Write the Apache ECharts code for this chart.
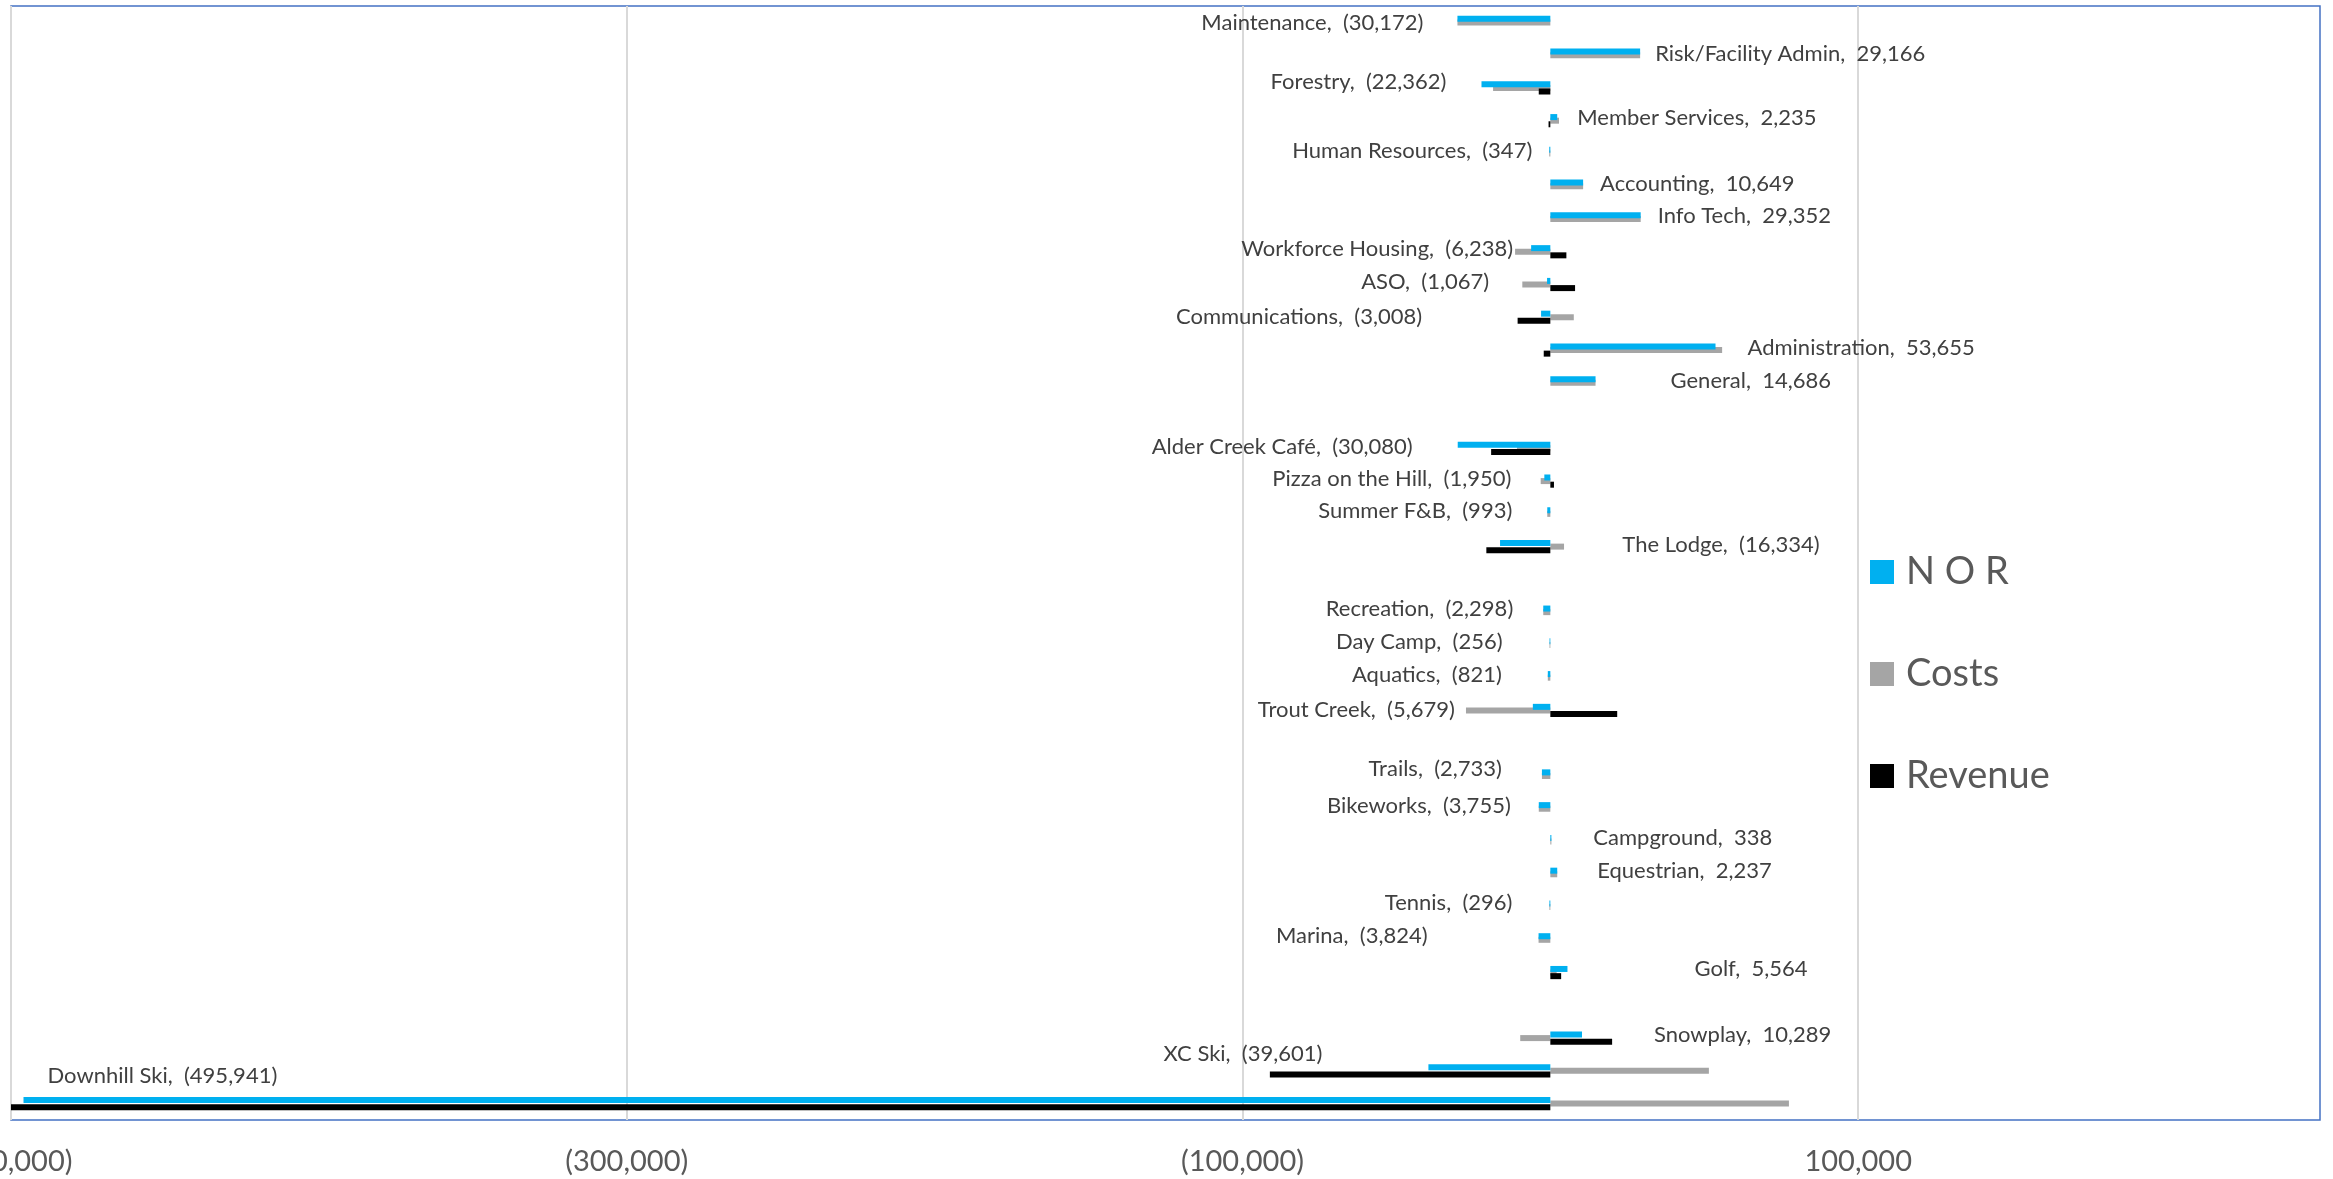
<!DOCTYPE html>
<html>
<head>
<meta charset="utf-8">
<script src="https://cdn.jsdelivr.net/npm/echarts@6/dist/echarts.min.js"></script>
<style>
  html, body { margin: 0; padding: 0; background: #ffffff; }
  #chart { width: 2333px; height: 1179px; }
</style>
</head>
<body>
<div id="chart"></div>
<script>
// ---------- DATA ----------
const categories = [
  'Maintenance', 'Risk/Facility Admin', 'Forestry', 'Member Services', 'Human Resources',
  'Accounting', 'Info Tech', 'Workforce Housing', 'ASO', 'Communications', 'Administration', 'General',
  '',
  'Alder Creek Café', 'Pizza on the Hill', 'Summer F&B', 'The Lodge',
  '',
  'Recreation', 'Day Camp', 'Aquatics', 'Trout Creek',
  '',
  'Trails', 'Bikeworks', 'Campground', 'Equestrian', 'Tennis', 'Marina', 'Golf',
  '',
  'Snowplay', 'XC Ski', 'Downhill Ski'
];

const norValues = [
  -30172, 29166, -22362, 2235, -347, 10649, 29352, -6238, -1067, -3008, 53655, 14686,
  null,
  -30080, -1950, -993, -16334,
  null,
  -2298, -256, -821, -5679,
  null,
  -2733, -3755, 338, 2237, -296, -3824, 5564,
  null,
  10289, -39601, -495941
];

const costValues = [
  -30172, 29166, -18600, 2815, -347, 10649, 29352, -11450, -9100, 7620, 55800, 14686,
  null,
  -10850, -3130, -993, 4450,
  null,
  -2298, -256, -821, -27400,
  null,
  -2733, -3755, 338, 2237, -296, -3824, 2050,
  null,
  -9780, 51500, 77500
];

const revenueValues = [
  0, 0, -3762, -580, 0, 0, 0, 5212, 8033, -10628, -2145, 0,
  null,
  -19230, 1180, 0, -20784,
  null,
  0, 0, 0, 21721,
  null,
  0, 0, 0, 0, 0, 0, 3514,
  null,
  20069, -91101, -573441
];

const xTickValues = [-500000, -300000, -100000, 100000];
const seriesNames = ['N O R', 'Costs', 'Revenue'];

// ---------- LABEL PLACEMENT (style only): [distance, dy, position] ----------
const labelPlacement = {
  'Maintenance': [34, 4], 'Risk/Facility Admin': [15, 2], 'Forestry': [35, -2],
  'Member Services': [20, 1], 'Human Resources': [17, 1], 'Accounting': [17, 1],
  'Info Tech': [17, 1], 'Workforce Housing': [18, 1], 'ASO': [58, 1],
  'Communications': [119, 3], 'Administration': [32, 1], 'General': [75, 2],
  'Alder Creek Café': [45, 2], 'Pizza on the Hill': [33, 1], 'Summer F&B': [35, 1],
  'The Lodge': [72, 2, 'right'], 'Recreation': [30, 0], 'Day Camp': [47, 1],
  'Aquatics': [46, 1], 'Trout Creek': [78, 3], 'Trails': [40, -3],
  'Bikeworks': [28, 1], 'Campground': [42, 0], 'Equestrian': [40, 0],
  'Tennis': [37, -1], 'Marina': [111, 0], 'Golf': [127, 0],
  'Snowplay': [72, 0], 'XC Ski': [106, -13], 'Downhill Ski': [24, -24, 'insideLeft']
};

function fmtNum(v) {
  const s = Math.abs(v).toLocaleString('en-US');
  return v < 0 ? '(' + s + ')' : s;
}

const FONT = 'Lato';
const BAR_W = 6;
const BAR_GAP = '-40%';

const norData = norValues.map((v, i) => {
  if (v === null) return '-';
  const p = labelPlacement[categories[i]] || [20, 0];
  const pos = p[2] || (v >= 0 ? 'right' : 'left');
  return {
    value: v,
    label: { position: pos, distance: p[0], offset: [0, p[1]] }
  };
});

const chart = echarts.init(document.getElementById('chart'), null, { renderer: 'canvas' });

chart.setOption({
  backgroundColor: '#ffffff',
  animation: false,
  textStyle: { fontFamily: FONT },
  grid: {
    left: 11, right: 13, top: 6, bottom: 59,
    show: true, borderColor: '#4472C4', borderWidth: 1.5, backgroundColor: 'transparent',
    containLabel: false,
    outerBoundsMode: 'none'
  },
  legend: {
    show: true,
    orient: 'vertical',
    left: 1870,
    top: 550,
    padding: 0,
    itemWidth: 24,
    itemHeight: 24,
    itemGap: 58,
    icon: 'rect',
    data: seriesNames,
    textStyle: { fontFamily: FONT, fontSize: 38, color: '#595959', lineHeight: 44, padding: [0, 0, 0, 7] }
  },
  xAxis: {
    type: 'value',
    min: -500000,
    max: 250000,
    position: 'bottom',
    axisLine: { show: false },
    axisTick: { show: false, customValues: xTickValues },
    axisLabel: {
      customValues: xTickValues,
      fontFamily: FONT, fontSize: 29, color: '#595959', margin: 27,
      formatter: v => fmtNum(v)
    },
    splitLine: { show: true, lineStyle: { color: '#D9D9D9', width: 2 } }
  },
  yAxis: {
    type: 'category',
    inverse: true,
    data: categories,
    axisLine: { show: false },
    axisTick: { show: false },
    axisLabel: { show: false },
    splitLine: { show: false }
  },
  series: [
    {
      name: seriesNames[0],
      type: 'bar',
      data: norData,
      barWidth: BAR_W,
      barGap: BAR_GAP,
      z: 3,
      itemStyle: { color: '#00B0F0' },
      label: {
        show: true,
        fontFamily: FONT, fontSize: 22, color: '#404040',
        formatter: p => p.name + ',  ' + fmtNum(p.value)
      }
    },
    {
      name: seriesNames[1],
      type: 'bar',
      data: costValues.map(v => v === null ? '-' : v),
      barWidth: BAR_W,
      barGap: BAR_GAP,
      z: 1,
      itemStyle: { color: '#A5A5A5' }
    },
    {
      name: seriesNames[2],
      type: 'bar',
      data: revenueValues.map(v => v === null ? '-' : v),
      barWidth: BAR_W,
      barGap: BAR_GAP,
      z: 2,
      itemStyle: { color: '#000000' }
    }
  ]
});
</script>
</body>
</html>
